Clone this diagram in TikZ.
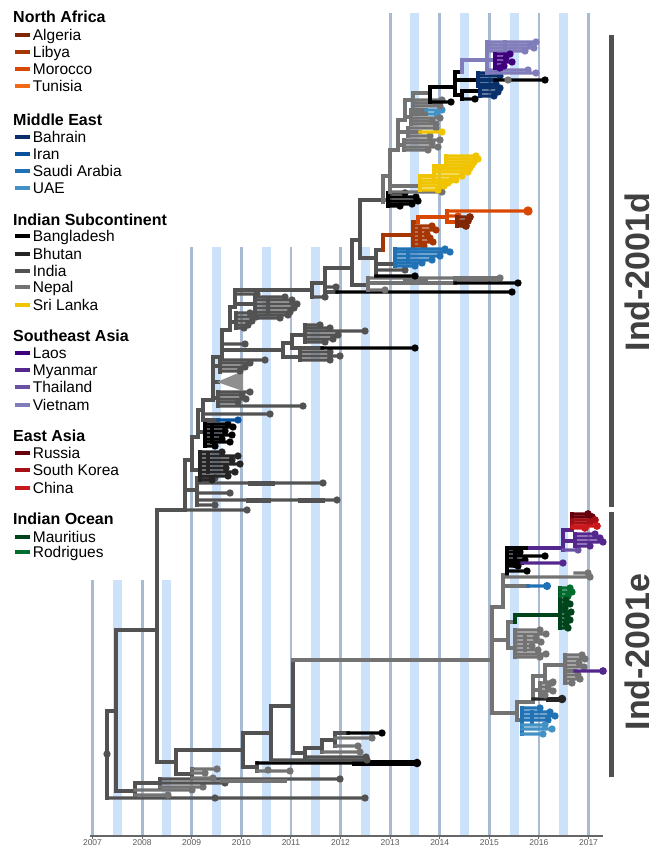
\documentclass[tikz,border=0pt]{standalone}
\usepackage{fontspec}
\setmainfont{Liberation Sans}
\usetikzlibrary{positioning}

\definecolor{cAlgeria}{HTML}{7F2704}
\definecolor{cLibya}{HTML}{A63603}
\definecolor{cMorocco}{HTML}{D94801}
\definecolor{cTunisia}{HTML}{F16913}
\definecolor{cBahrain}{HTML}{08306B}
\definecolor{cIran}{HTML}{08519C}
\definecolor{cSaudi}{HTML}{2171B5}
\definecolor{cUAE}{HTML}{4292C6}
\definecolor{cBangla}{HTML}{000000}
\definecolor{cBhutan}{HTML}{252525}
\definecolor{cIndia}{HTML}{525252}
\definecolor{cNepal}{HTML}{737373}
\definecolor{cLanka}{HTML}{F0C400}
\definecolor{cLaos}{HTML}{3F007D}
\definecolor{cMyanmar}{HTML}{54278F}
\definecolor{cThai}{HTML}{6A51A3}
\definecolor{cViet}{HTML}{807DBA}
\definecolor{cRussia}{HTML}{67000D}
\definecolor{cKorea}{HTML}{A50F15}
\definecolor{cChina}{HTML}{CB181D}
\definecolor{cMauritius}{HTML}{00441B}
\definecolor{cRodrigues}{HTML}{006D2C}
\definecolor{cYearLine}{HTML}{A9BBD3}
\definecolor{cHalfBand}{HTML}{CCE1FA}
\definecolor{cBar}{HTML}{505050}

\begin{document}
\begin{tikzpicture}[
    x=1pt, y=-1pt,
    tr/.style={line width=3.1pt, line cap=rect},
    india/.style={tr, color=cIndia},
    nepal/.style={tr, color=cNepal},
    bngl/.style={tr, color=cBangla},
    bhut/.style={tr, color=cBhutan},
    lanka/.style={tr, color=cLanka},
    algeria/.style={tr, color=cAlgeria},
    libya/.style={tr, color=cLibya},
    morocco/.style={tr, color=cMorocco},
    bahrain/.style={tr, color=cBahrain},
    iran/.style={tr, color=cIran},
    saudi/.style={tr, color=cSaudi},
    uae/.style={tr, color=cUAE},
    laos/.style={tr, color=cLaos},
    myanmar/.style={tr, color=cMyanmar},
    thai/.style={tr, color=cThai},
    viet/.style={tr, color=cViet},
    russia/.style={tr, color=cRussia},
    korea/.style={tr, color=cKorea},
    china/.style={tr, color=cChina},
    mauritius/.style={tr, color=cMauritius},
    rodrigues/.style={tr, color=cRodrigues},
    yearline/.style={line width=2.8pt, color=cYearLine},
    halfband/.style={line width=9pt, color=cHalfBand},
    yearlab/.style={font=\fontsize{8.5}{9}\selectfont, text=black!65, inner sep=0pt},
    head/.style={anchor=west, inner sep=0pt, text height=11.5pt, text depth=0pt, font=\bfseries\fontsize{16}{18}\selectfont},
    item/.style={inner sep=0pt, label distance=2.5pt, text height=11pt, text depth=0pt, font=\fontsize{15.5}{17}\selectfont},
    swatch/.style={rectangle, minimum width=15pt, minimum height=4.5pt, inner sep=0pt},
    clade/.style={rotate=90, inner sep=0pt, text=black!75, font=\bfseries\fontsize{34}{36}\selectfont},
    bar/.style={line width=5pt, color=cBar}
]
\useasboundingbox (0,0) rectangle (655,848);

% ------------------ time grid ------------------
\foreach \t in {0.5,1.5} \draw[halfband] ({92.5+49.6*\t},580) -- ({92.5+49.6*\t},835);
\foreach \t in {2.5,3.5,4.5,5.5} \draw[halfband] ({92.5+49.6*\t},247) -- ({92.5+49.6*\t},835);
\foreach \t in {6.5,7.5,8.5,9.5} \draw[halfband] ({92.5+49.6*\t},13) -- ({92.5+49.6*\t},835);
\foreach \t in {0,1} \draw[yearline] ({92.5+49.6*\t},580) -- ({92.5+49.6*\t},835);
\foreach \t in {2,3,4,5} \draw[yearline] ({92.5+49.6*\t},247) -- ({92.5+49.6*\t},835);
\foreach \t in {6,...,10} \draw[yearline] ({92.5+49.6*\t},13) -- ({92.5+49.6*\t},835);

% axis
\draw[line width=1.5pt, color=black!60] (90,836) -- (603,836);
\foreach \t/\yr in {0/2007,1/2008,2/2009,3/2010,4/2011,5/2012,6/2013,7/2014,8/2015,9/2016,10/2017} {
  \draw[line width=1pt, color=black!60] ({92.5+49.6*\t},836) -- ({92.5+49.6*\t},839);
  \node[yearlab] (yr\yr) at ({92.5+49.6*\t},843) {\yr};
}

% ------------------ root and early lineages ------------------
\draw[india] (107,711) -- (107,798);
\filldraw[india] (107,754) circle (2);
\draw[india] (107,711) -- (116,711);
\filldraw[india] (107,798) -- (365,798) circle (2);
\filldraw[india] (215,798) circle (2);
\draw[india] (116,630) -- (116,791);
\draw[india] (116,630) -- (157,630);
\draw[india] (116,791) -- (135,791);
\draw[india] (135,783) -- (135,795);
\filldraw[nepal] (135,795) -- (168,795) circle (2);
\filldraw[nepal] (135,790) -- (192,790) circle (2);
\draw[india] (135,783) -- (160,783);
\draw[india] (160,779) -- (160,787);
\filldraw[nepal] (160,787) -- (203,787) circle (2);
\filldraw[india] (160,783) -- (225,783) circle (2);
\filldraw[india] (160,779) -- (340,779) circle (2);
\draw[nepal, line width=4.5pt] (222,781) -- (285,781);

% lineages of 2009--2012
\draw[india] (157,762) -- (176,762);
\draw[india] (176,750) -- (176,774);
\draw[india] (176,774) -- (192,774);
\draw[india] (192,769) -- (192,778);
\foreach \y/\x in {769/217,773/205,778/213} \filldraw[nepal] (192,\y) -- (\x,\y) circle (2);
\draw[india] (176,750) -- (243,750);
\draw[india] (243,733) -- (243,767);
\draw[india] (243,767) -- (257,767);
\draw[india] (257,763) -- (257,771);
\filldraw[bngl] (257,763) -- (417,763) circle (2.6);
\draw[bngl, line width=6pt] (355,763) -- (417,763);
\filldraw[nepal] (257,771) -- (290,771) circle (2);
\filldraw[nepal] (268,770) circle (2);
\draw[india] (243,733) -- (271,733);
\draw[india] (271,706) -- (271,760);
\filldraw[india] (271,760) -- (367,760) circle (2);
\draw[india] (271,706) -- (293,706);
\draw[india] (293,660) -- (293,753);
\draw[nepal] (293,660) -- (492,660);
\draw[india] (293,753) -- (305,753);
\draw[india] (305,748) -- (305,757);
\filldraw[india] (305,757) -- (366,757) circle (2);
\draw[india] (305,748) -- (322,748);
\draw[india] (322,740) -- (322,752);
\filldraw[nepal] (322,752) -- (360,752) circle (2);
\draw[india] (322,740) -- (335,740);
\draw[india] (335,733) -- (335,746);
\filldraw[nepal] (335,746) -- (358,746) circle (2);
\filldraw[nepal] (335,738) -- (372,738) circle (2);
\draw[india] (335,733) -- (348,733);
\filldraw[bngl] (348,733) -- (382,733) circle (2);

% ------------------ Ind-2001d ------------------
% backbone
\draw[india] (157,762) -- (157,510) -- (185,510) -- (185,460) -- (192,460) -- (192,437) -- (198,437) -- (198,410) -- (203,410) -- (203,400) -- (213,400) -- (213,357) -- (222,357) -- (222,330) -- (230,330) -- (230,307) -- (235,307) -- (235,290) -- (312,290) -- (312,283) -- (325,283) -- (325,268) -- (352,268) -- (352,240) -- (360,240) -- (360,200) -- (383,200);
\draw[nepal] (383,200) -- (383,176) -- (390,176) -- (390,150) -- (398,150) -- (398,120) -- (405,120) -- (405,100) -- (413,100) -- (413,93) -- (430,93);
\draw[bngl] (430,93) -- (430,87) -- (455,87) -- (455,72) -- (462,72);
\draw[viet] (462,72) -- (462,60) -- (487,60);

% lower India clades
\filldraw[india] (185,510) -- (247,510) circle (2);
\draw[india] (185,490) -- (197,490);
\draw[india] (197,478) -- (197,505);
\foreach \y/\x in {478/215,483/323,493/230,500/337,505/215} \filldraw[india] (197,\y) -- (\x,\y) circle (2);
\draw[india, line width=5pt] (250,483) -- (272,483);
\draw[india, line width=5pt] (248,500) -- (268,500);
\draw[india, line width=5pt] (300,500) -- (322,500);
\draw[india] (192,460) -- (192,470) -- (200,470);
\draw[bhut] (200,452) -- (200,480);
\draw[bhut] (208,455) -- (208,472);
\foreach \y/\x in {452/222,456/238,460/232,464/240,468/226,472/235,476/228,480/212} \filldraw[bhut] (200,\y) -- (\x,\y) circle (2);
\draw[india] (198,432) -- (205,432);
\draw[bngl] (205,424) -- (205,446);
\draw[bngl] (212,427) -- (212,442);
\foreach \y/\x in {424/228,427/233,431/225,435/232,439/222,442/230,446/215} \filldraw[bngl] (205,\y) -- (\x,\y) circle (2);
\draw[india] (203,410) -- (203,420);
\filldraw[india] (203,414) -- (270,414) circle (2);
\draw[india] (203,420) -- (218,420);
\filldraw[iran] (218,420) -- (238,420) circle (2);
\draw[india] (213,398) -- (218,398);
\draw[india] (218,392) -- (218,406);
\foreach \y/\x in {392/250,395/242,399/246,402/238,406/303} \filldraw[india] (218,\y) -- (\x,\y) circle (2);
\draw[india] (213,382) -- (218,382);
\fill[cNepal!80] (217,382) -- (243,371) -- (243,391) -- cycle;
\draw[india] (213,366) -- (220,366);
\draw[india] (220,360) -- (220,372);
\foreach \y/\x in {360/265,363/250,367/245,371/240} \filldraw[india] (220,\y) -- (\x,\y) circle (2);

% 2011 clade
\filldraw[india] (222,344) -- (245,344) circle (2);
\draw[india] (222,350) -- (283,350);
\draw[india] (283,343) -- (283,357);
\draw[india] (283,357) -- (300,357);
\draw[india] (300,352) -- (300,360);
\foreach \y/\x in {352/330,356/340,360/330} \filldraw[india] (300,\y) -- (\x,\y) circle (2);
\draw[india] (283,343) -- (292,343);
\draw[india] (292,335) -- (292,348);
\draw[india] (292,348) -- (322,348);
\filldraw[bngl] (322,348) -- (415,348) circle (2);
\draw[india] (292,335) -- (305,335);
\draw[india] (305,325) -- (305,342);
\foreach \y/\x in {325/320,328/330,331/365,335/338,339/333,342/325} \filldraw[india] (305,\y) -- (\x,\y) circle (2);

% 2010 clades
\draw[india] (230,322) -- (236,322);
\draw[india] (236,313) -- (236,328);
\foreach \y/\x in {313/250,317/256,321/252,325/248,328/244} \filldraw[india] (236,\y) -- (\x,\y) circle (2);
\filldraw[india] (235,294) -- (257,294) circle (2);
\draw[india] (235,304) -- (255,304);
\draw[india] (255,297) -- (255,318);
\draw[india] (268,299) -- (268,314);
\foreach \y/\x in {297/285,300/292,304/297,308/294,312/290,315/288,318/280} \filldraw[india] (255,\y) -- (\x,\y) circle (2);

% towards the 2012 split
\draw[india] (312,290) -- (312,297);
\filldraw[india] (312,297) -- (325,297) circle (2);
\draw[india] (325,283) -- (325,292);
\filldraw[india] (325,287) -- (336,287) circle (2);
\draw[india] (325,292) -- (337,292);
\filldraw[bngl] (337,292) -- (512,292) circle (2);
\draw[india] (352,268) -- (352,285) -- (368,285);
\draw[nepal] (368,278) -- (368,290);
\filldraw[nepal] (368,278) -- (500,278) circle (2);
\draw[nepal, line width=5pt] (405,279) -- (425,279);
\draw[nepal, line width=5pt] (455,278) -- (495,278);
\draw[nepal] (368,283) -- (455,283);
\filldraw[bngl] (455,283) -- (518,283) circle (2);
\filldraw[nepal] (368,290) -- (385,290) circle (2);

% North Africa and Saudi Arabia
\draw[india] (360,240) -- (360,258) -- (376,258);
\draw[india] (376,250) -- (376,276);
\filldraw[india] (376,270) -- (405,270) circle (2);
\filldraw[bngl] (376,276) -- (415,276) circle (2);
\draw[india] (376,250) -- (383,250);
\draw[libya] (383,250) -- (383,235) -- (413,235);
\draw[libya] (413,222) -- (413,246);
\draw[libya] (420,228) -- (420,243);
\foreach \y/\x in {226/432,230/436,234/427,238/430,242/433,246/424} \filldraw[libya] (413,\y) -- (\x,\y) circle (2);
\draw[libya] (413,222) -- (418,222);
\draw[morocco] (418,222) -- (418,217) -- (447,217);
\draw[morocco] (447,211) -- (447,222);
\filldraw[morocco] (447,211) -- (528,211) circle (3);
\filldraw[morocco] (447,216) -- (458,216) circle (2);
\draw[morocco] (447,222) -- (457,222);
\draw[algeria] (457,217) -- (457,226);
\foreach \y/\x in {217/470,221/468,224/463,226/466} \filldraw[algeria] (457,\y) -- (\x,\y) circle (2.2);
\draw[india] (376,264) -- (395,264);
\draw[saudi] (395,249) -- (395,266);
\draw[saudi] (408,251) -- (408,262);
\foreach \y/\x in {249/445,252/450,256/440,260/432,263/422,266/415} \filldraw[saudi] (395,\y) -- (\x,\y) circle (2);

% Bangladesh and Sri Lanka
\draw[nepal] (383,200) -- (383,202);
\draw[nepal] (383,200) -- (388,200);
\draw[bngl] (388,193) -- (388,206);
\foreach \y/\x in {193/405,197/416,201/418,204/412,206/400} \filldraw[bngl] (388,\y) -- (\x,\y) circle (2);
\draw[nepal] (390,176) -- (390,192);
\filldraw[nepal] (390,192) -- (442,192) circle (2);
\draw[nepal] (390,186) -- (420,186);
\draw[lanka] (420,176) -- (420,190);
\foreach \y/\x in {180/452,183/448,186/444,190/438} \filldraw[lanka] (420,\y) -- (\x,\y) circle (2);
\draw[lanka] (420,176) -- (434,176);
\draw[lanka] (434,166) -- (434,180);
\foreach \y/\x in {169/466,172/468,176/462,180/456} \filldraw[lanka] (434,\y) -- (\x,\y) circle (2);
\draw[lanka] (434,166) -- (446,166);
\draw[lanka] (446,156) -- (446,168);
\foreach \y/\x in {156/476,159/478,162/474,165/472,168/470} \filldraw[lanka] (446,\y) -- (\x,\y) circle (2);

% grey clades below the Bahrain split
\draw[nepal] (398,145) -- (404,145);
\draw[nepal] (404,140) -- (404,150);
\foreach \y/\x in {140/440,143/432,147/438,150/428} \filldraw[nepal] (404,\y) -- (\x,\y) circle (2);
\draw[nepal] (398,132) -- (408,132);
\draw[nepal] (408,128) -- (408,136);
\filldraw[nepal] (408,128) -- (436,128) circle (2);
\filldraw[nepal] (408,136) -- (430,136) circle (2);
\draw[nepal] (408,132) -- (420,132);
\filldraw[lanka] (420,132) -- (442,132) circle (2);
\draw[nepal] (405,117) -- (411,117);
\draw[nepal] (411,110) -- (411,124);
\draw[nepal] (411,110) -- (426,110);
\filldraw[uae] (426,110) -- (442,110) circle (2);
\filldraw[uae] (426,114) -- (437,114) circle (2);
\draw[nepal] (411,114) -- (426,114);
\foreach \y/\x in {118/440,121/432,124/436} \filldraw[nepal] (411,\y) -- (\x,\y) circle (2);
\draw[nepal] (413,100) -- (413,106);
\foreach \y/\x in {100/442,103/436,106/440} \filldraw[nepal] (413,\y) -- (\x,\y) circle (2);

% Bahrain and Southeast Asia
\draw[bngl] (430,93) -- (430,102);
\filldraw[bngl] (430,102) -- (451,102) circle (2);
\draw[bngl] (455,87) -- (455,95);
\draw[bngl] (455,80) -- (478,80);
\draw[bahrain] (478,73) -- (478,86);
\foreach \y/\x in {73/497,76/500,84/496,86/490} \filldraw[bahrain] (478,\y) -- (\x,\y) circle (2);
\draw[bahrain] (478,80) -- (495,80);
\filldraw[bngl] (495,80) -- (545,80) circle (2);
\filldraw[nepal] (508,80) circle (2);
\draw[bngl] (455,95) -- (462,95);
\draw[bngl] (462,91) -- (462,99);
\filldraw[bngl] (462,99) -- (475,99) circle (2);
\draw[bngl] (462,91) -- (480,91);
\draw[bahrain] (480,88) -- (480,96);
\foreach \y/\x in {88/500,92/498,96/494} \filldraw[bahrain] (480,\y) -- (\x,\y) circle (2);
\draw[viet] (487,42) -- (487,73);
\draw[viet] (505,42) -- (505,52);
\foreach \y/\x in {42/536,45/530,48/534,51/525,70/528,73/536} \filldraw[viet] (487,\y) -- (\x,\y) circle (2);
\draw[viet] (487,60) -- (495,60);
\draw[laos] (495,54) -- (495,68);
\foreach \y/\x in {54/510,58/506,62/512,66/504,68/500} \filldraw[laos] (495,\y) -- (\x,\y) circle (2);

% ------------------ Ind-2001e ------------------
\draw[nepal] (492,607) -- (492,713);
\draw[nepal] (492,607) -- (503,607);
\draw[nepal] (503,575) -- (503,607);
\draw[nepal] (503,575) -- (507,575);
\draw[bngl] (507,548) -- (507,575);
\draw[bngl] (515,552) -- (515,566);
\foreach \y/\x in {552/520,556/545,560/525,566/518,571/527} \filldraw[bngl] (507,\y) -- (\x,\y) circle (2);
\draw[bngl] (507,563) -- (522,563);
\filldraw[myanmar] (522,563) -- (563,563) circle (2);
\draw[bngl] (507,548) -- (530,548);
\draw[myanmar] (530,548) -- (563,548);
\draw[myanmar] (563,530) -- (563,550);
\filldraw[thai] (563,550) -- (578,550) circle (2);
\draw[myanmar] (563,541) -- (575,541);
\draw[myanmar] (575,534) -- (575,546);
\foreach \y/\x in {534/595,538/600,542/603,546/590} \filldraw[myanmar] (575,\y) -- (\x,\y) circle (2);
\draw[myanmar] (563,530) -- (572,530);
\draw[russia] (572,514) -- (572,528);
\foreach \y/\x/\s in {514/588/russia,517/592/russia,520/595/korea,523/590/korea,526/597/china,528/585/china} \filldraw[\s] (572,\y) -- (\x,\y) circle (2.2);
\filldraw[nepal] (503,577) -- (590,577) circle (2);
\filldraw[nepal] (575,573) -- (588,573) circle (2);
\draw[nepal] (503,586) -- (528,586);
\filldraw[saudi] (528,586) -- (547,586) circle (2.4);
\draw[nepal] (492,640) -- (508,640);
\draw[nepal] (508,622) -- (508,648);
\draw[nepal] (508,622) -- (515,622);
\draw[mauritius] (515,622) -- (515,615) -- (560,615);
\draw[mauritius] (560,588) -- (560,628);
\foreach \y/\x in {588/570,592/572,596/568} \filldraw[rodrigues] (560,\y) -- (\x,\y) circle (2);
\foreach \y/\x in {600/566,604/570,608/565,612/571,616/567,620/570,624/566,628/568} \filldraw[mauritius] (560,\y) -- (\x,\y) circle (2);
\draw[nepal] (508,648) -- (515,648);
\draw[nepal] (515,630) -- (515,657);
\draw[nepal] (525,635) -- (525,650);
\foreach \y/\x in {630/540,634/546,638/536,642/541,646/532,650/538,654/546,657/540} \filldraw[nepal] (515,\y) -- (\x,\y) circle (2);
\draw[nepal] (492,713) -- (517,713);
\draw[nepal] (517,702) -- (517,720);
\draw[nepal] (517,702) -- (533,702);
\draw[nepal] (533,676) -- (533,702);
\filldraw[bhut] (533,699) -- (562,699) circle (2.6);
\draw[bhut, line width=5pt] (548,699) -- (562,699);
\draw[nepal] (533,690) -- (540,690);
\draw[nepal] (540,683) -- (540,695);
\foreach \y/\x in {683/552,687/548,691/553,695/545} \filldraw[nepal] (540,\y) -- (\x,\y) circle (2);
\draw[nepal] (533,676) -- (545,676);
\draw[nepal] (545,665) -- (545,682);
\filldraw[nepal] (545,682) -- (553,682) circle (2);
\draw[nepal] (545,665) -- (565,665);
\draw[nepal] (565,655) -- (565,683);
\foreach \y/\x in {655/582,659/585,663/579,667/584,675/578,679/580,683/572} \filldraw[nepal] (565,\y) -- (\x,\y) circle (2);
\draw[nepal] (565,671) -- (575,671);
\filldraw[myanmar] (575,671) -- (603,671) circle (2.2);
\draw[nepal] (517,720) -- (522,720);
\draw[saudi] (522,708) -- (522,734);
\draw[saudi] (532,712) -- (532,724);
\foreach \y/\x/\s in {708/540/saudi,712/550/saudi,716/555/saudi,720/548/saudi,725/545/uae,729/552/uae,734/543/uae} \filldraw[\s] (522,\y) -- (\x,\y) circle (2);

% ------------------ lineage bars ------------------
\draw[bar] (611,35) -- (611,507);
\draw[bar] (611,512) -- (611,777);
\node[clade] (lab2001d) at (637,272) {Ind-2001d};
\node[clade] (lab2001e) at (637,652) {Ind-2001e};

% ------------------ Legend ------------------
\node[head] (hdNAfrica) at (13,17) {North Africa};
\node[head] (hdMEast) at (13,120) {Middle East};
\node[head] (hdISub) at (13,220) {Indian Subcontinent};
\node[head] (hdSEAsia) at (13,336) {Southeast Asia};
\node[head] (hdEAsia) at (13,436) {East Asia};
\node[head] (hdIOcean) at (13,519) {Indian Ocean};
\foreach \id/\nm/\col/\yy in {alg/Algeria/cAlgeria/35, lib/Libya/cLibya/52, mor/Morocco/cMorocco/69, tun/Tunisia/cTunisia/86,
    bah/Bahrain/cBahrain/137, irn/Iran/cIran/154, sau/Saudi Arabia/cSaudi/171, uae/UAE/cUAE/188,
    ban/Bangladesh/cBangla/236, bhu/Bhutan/cBhutan/254, ind/India/cIndia/271, nep/Nepal/cNepal/287, sri/Sri Lanka/cLanka/305,
    lao/Laos/cLaos/353, mya/Myanmar/cMyanmar/370, tha/Thailand/cThai/387, vie/Vietnam/cViet/405,
    rus/Russia/cRussia/453, kor/South Korea/cKorea/470, chi/China/cChina/488,
    mau/Mauritius/cMauritius/537, rod/Rodrigues/cRodrigues/552}
  \node[swatch, fill=\col, label={[item]right:\nm}] (leg\id) at (22.5,\yy) {};

\end{tikzpicture}
\end{document}
